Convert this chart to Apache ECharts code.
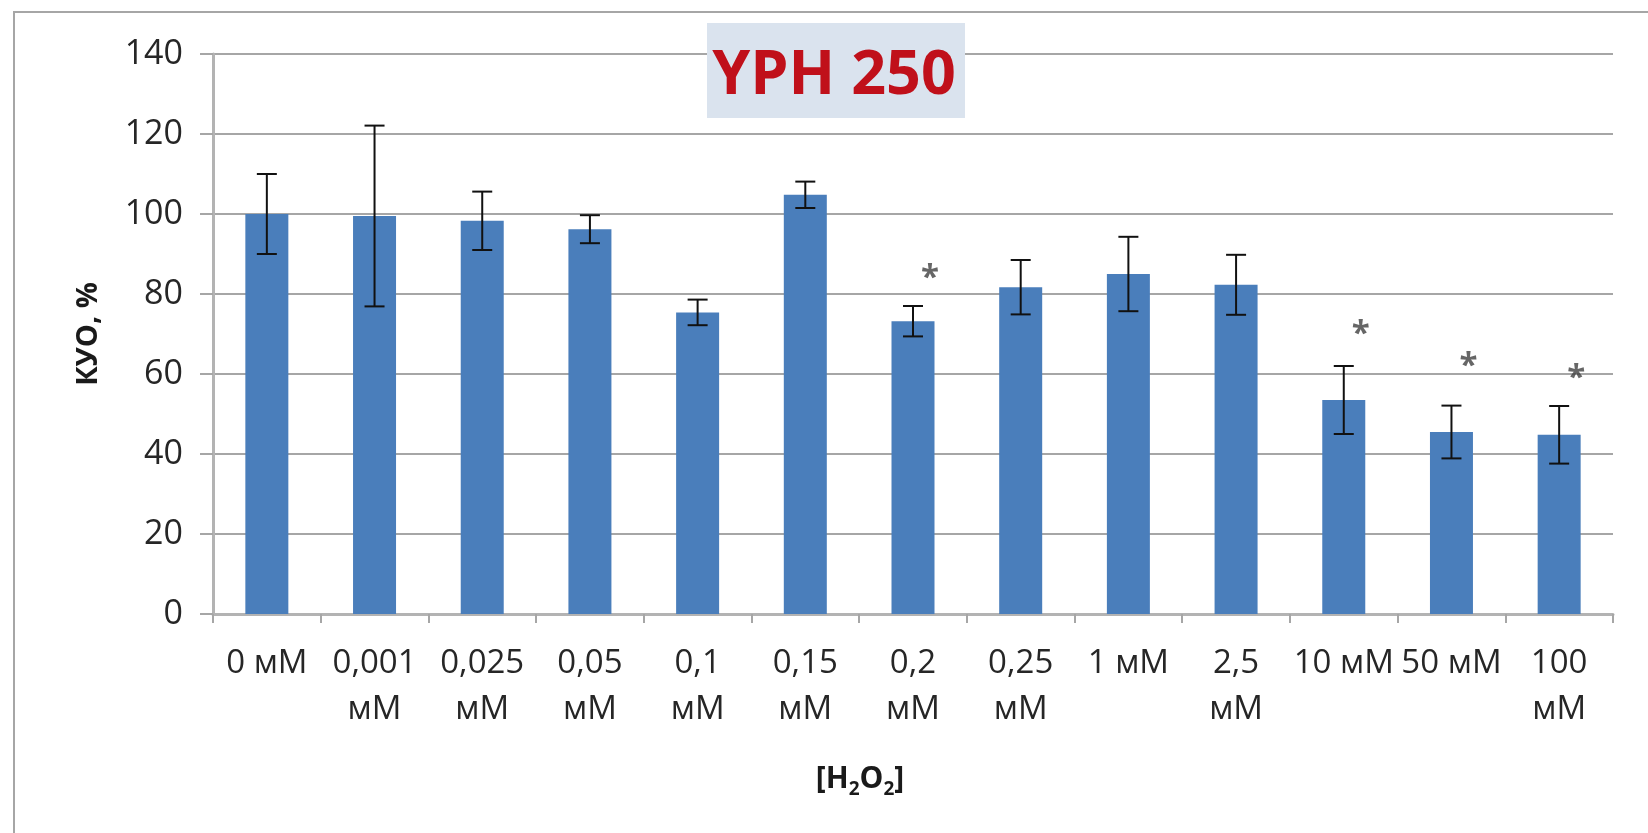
<!DOCTYPE html>
<html>
<head>
<meta charset="utf-8">
<script src="https://cdn.jsdelivr.net/npm/echarts@6/dist/echarts.min.js"></script>
<style>
html,body{margin:0;padding:0;background:#fff;}
#chart{width:1648px;height:833px;}
</style>
</head>
<body>
<div id="chart"></div>
<script>
// ---- data ----
var categories = ['0 мМ', '0,001\nмМ', '0,025\nмМ', '0,05\nмМ', '0,1\nмМ', '0,15\nмМ', '0,2\nмМ', '0,25\nмМ', '1 мМ', '2,5\nмМ', '10 мМ', '50 мМ', '100\nмМ'];
var values  = [100, 99.5, 98.3, 96.2, 75.4, 104.8, 73.2, 81.7, 85.0, 82.3, 53.5, 45.5, 44.8];
var errors  = [10, 22.6, 7.3, 3.5, 3.2, 3.3, 3.8, 6.8, 9.3, 7.5, 8.5, 6.6, 7.2];
var stars   = [null, null, null, null, null, null, 86, null, null, null, 72, 64, 61];
var yTicks  = { min: 0, max: 140, interval: 20 };
var chartTitle = 'YPH 250';
var yName = 'КУО, %';

// ---- derived series data ----
var errData = values.map(function (v, i) { return [i, v, errors[i]]; });
var starData = [];
stars.forEach(function (s, i) { if (s !== null) starData.push([i, s]); });

var FONT = '"Open Sans", "DejaVu Sans", sans-serif';
var chart = echarts.init(document.getElementById('chart'));

chart.setOption({
  backgroundColor: '#ffffff',
  animation: false,
  grid: { left: 213, right: 35, top: 54, bottom: 219, containLabel: false },
  xAxis: {
    type: 'category',
    data: categories,
    axisLine: { show: true, lineStyle: { color: '#b3b3b3', width: 3 } },
    axisTick: { show: true, length: 9, lineStyle: { color: '#a6a6a6', width: 2 } },
    axisLabel: {
      interval: 0, margin: 27, fontFamily: FONT, fontSize: 33, lineHeight: 46,
      color: '#262626', align: 'center'
    },
    splitLine: { show: false }
  },
  yAxis: {
    type: 'value',
    min: yTicks.min, max: yTicks.max, interval: yTicks.interval,
    name: yName, nameLocation: 'middle', nameRotate: 90, nameGap: 110,
    nameTextStyle: { fontFamily: FONT, fontSize: 29, fontWeight: 'bold', color: '#1a1a1a' },
    axisLine: { show: true, lineStyle: { color: '#b3b3b3', width: 3 } },
    axisTick: { show: true, length: 13, lineStyle: { color: '#a6a6a6', width: 2 } },
    axisLabel: { margin: 30, fontFamily: FONT, fontSize: 34, color: '#262626' },
    splitLine: { show: true, lineStyle: { color: '#a6a6a6', width: 2 } }
  },
  series: [
    {
      type: 'bar',
      data: values,
      barWidth: 43,
      itemStyle: { color: '#4a7ebb' },
      z: 2
    },
    {
      type: 'custom',
      data: errData,
      z: 5,
      renderItem: function (params, api) {
        var i = api.value(0), v = api.value(1), e = api.value(2);
        var top = api.coord([i, v + e]);
        var bot = api.coord([i, v - e]);
        var hw = 10;
        var st = { stroke: '#111111', lineWidth: 2 };
        return {
          type: 'group',
          children: [
            { type: 'line', shape: { x1: top[0], y1: top[1], x2: bot[0], y2: bot[1] }, style: st },
            { type: 'line', shape: { x1: top[0] - hw, y1: top[1], x2: top[0] + hw, y2: top[1] }, style: st },
            { type: 'line', shape: { x1: bot[0] - hw, y1: bot[1], x2: bot[0] + hw, y2: bot[1] }, style: st }
          ]
        };
      }
    },
    {
      type: 'scatter',
      data: starData,
      symbolSize: 1,
      itemStyle: { color: 'rgba(0,0,0,0)' },
      z: 6,
      label: {
        show: true, formatter: '*', position: 'inside', offset: [17, 9],
        fontFamily: FONT, fontSize: 33, fontWeight: 'bold', color: '#404040'
      }
    }
  ],
  graphic: [
    {
      type: 'polyline', silent: true, z: 0,
      shape: { points: [[14, 833], [14, 12], [1648, 12]] },
      style: { stroke: '#a6a6a6', lineWidth: 2, fill: null }
    },
    {
      type: 'rect', z: 50,
      shape: { x: 707, y: 23, width: 258, height: 95 },
      style: { fill: '#dae3ee' }
    },
    {
      type: 'text', z: 51,
      x: 834, y: 77,
      style: {
        text: chartTitle, fontFamily: FONT, fontSize: 61, fontWeight: 'bold',
        fill: '#c0101a', align: 'center', verticalAlign: 'middle'
      }
    },
    {
      type: 'text', z: 51,
      x: 860, y: 779,
      style: {
        text: '{b|[H}{s|2}{b|O}{s|2}{b|]}',
        align: 'center', verticalAlign: 'middle',
        rich: {
          b: { fontFamily: FONT, fontSize: 30, fontWeight: 'bold', fill: '#1a1a1a', lineHeight: 40, verticalAlign: 'middle' },
          s: { fontFamily: FONT, fontSize: 19, fontWeight: 'bold', fill: '#1a1a1a', lineHeight: 40, verticalAlign: 'bottom' }
        }
      }
    }
  ]
});
</script>
</body>
</html>
